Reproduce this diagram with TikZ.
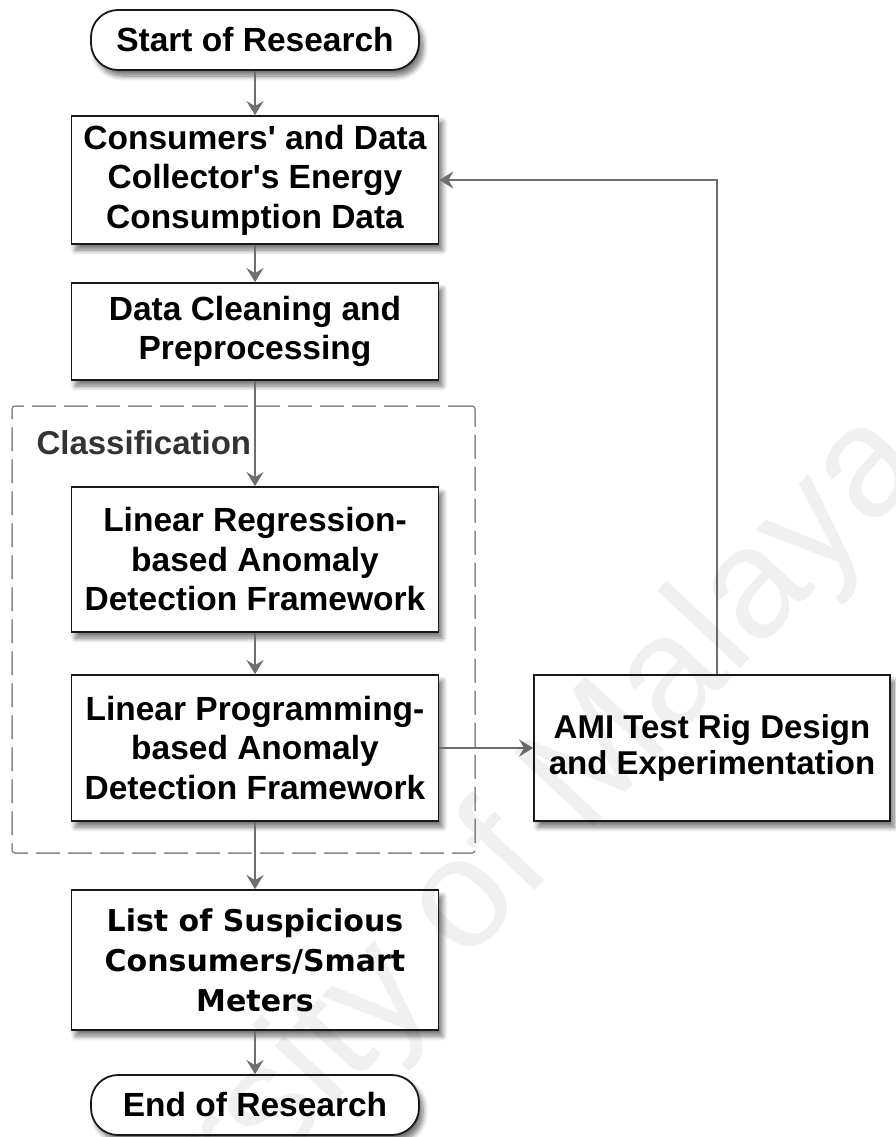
\documentclass[tikz,border=0pt]{standalone}
\usepackage{fontspec}
\setmainfont{Liberation Sans}
\newfontfamily\widesans{DejaVu Sans}
\usetikzlibrary{arrows.meta,shadows.blur}
\definecolor{linkgray}{HTML}{6E6E6E}
\definecolor{framegray}{HTML}{8C8C8C}
\definecolor{labelgray}{HTML}{333333}

\begin{document}
\begin{tikzpicture}[x=1pt,y=-1pt,
  softshadow/.style={blur shadow={shadow xshift=4pt,shadow yshift=-6pt,
      shadow blur radius=5pt,shadow blur steps=8,shadow opacity=55}},
  stepbox/.style={draw=black!90,line width=1.8pt,fill=white,softshadow,
      minimum width=367pt,align=center,inner sep=0pt,
      font=\bfseries\fontsize{33.5}{39.5}\selectfont},
  terminal/.style={stepbox,rounded corners=27pt,minimum width=328pt,minimum height=60pt},
  classframe/.style={draw=framegray,line width=1.5pt,dash pattern=on 24pt off 8pt,
      rounded corners=3pt,inner sep=0pt},
  link/.style={draw=linkgray,line width=2.6pt,-{Stealth[length=14pt,width=17pt,inset=5pt]}}
]
\useasboundingbox (0,0) rectangle (896,1137);

% classification stage frame and its title
\node[classframe,minimum width=463pt,minimum height=447pt] (classbox) at (243.5,629.5) {};
\node[anchor=west,text=labelgray,font=\bfseries\fontsize{33}{39}\selectfont] (cls) at (33,443) {Classification};

% process steps
\node[terminal] (start) at (255,40) {Start of Research};
\node[stepbox,minimum height=128pt] (cons) at (255,180)
  {Consumers\textquotesingle{} and Data\\Collector\textquotesingle s Energy\\Consumption Data};
\node[stepbox,minimum height=97pt] (clean) at (255,331.5) {Data Cleaning and\\Preprocessing};
\node[stepbox,minimum height=145pt] (lr) at (255,559.5)
  {Linear Regression-\\based Anomaly\\Detection Framework};
\node[stepbox,minimum height=146pt] (lp) at (255,748)
  {Linear Programming-\\based Anomaly\\Detection Framework};
\node[stepbox,minimum width=356pt,minimum height=146pt,
      font=\bfseries\fontsize{33}{36}\selectfont] (ami) at (712,748)
  {AMI Test Rig Design\\and Experimentation};
\node[stepbox,minimum height=140pt,font=\widesans\bfseries\fontsize{30}{40}\selectfont]
  (list) at (255,960) {List of Suspicious\\Consumers/Smart\\Meters};
\node[terminal] (end) at (255,1105) {End of Research};

% flow connectors
\draw[link] (start) -- (cons);
\draw[link] (cons) -- (clean);
\draw[link] (clean) -- (lr);
\draw[link] (lr) -- (lp);
\draw[link] (lp) -- (list);
\draw[link] (list) -- (end);
\draw[link] (lp) -- (ami);
\coordinate (ret) at (717,181);
\draw[link] (ami.north -| ret) |- (cons.east);

% faint diagonal watermark
\node[rotate=47,anchor=base east,text=black,text opacity=0.06,inner sep=0pt,
      font=\fontsize{157}{157}\selectfont] (wm) at (930,466) {University of Malaya};
\end{tikzpicture}
\end{document}
